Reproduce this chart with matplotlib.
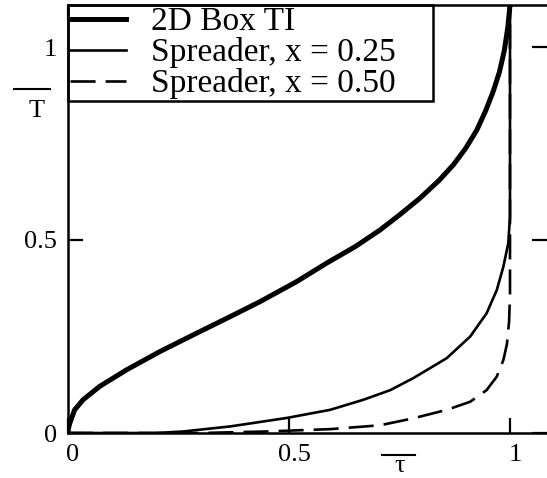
#!/usr/bin/env python
"""
Normalised temperature against normalised time for a 2D box
thermal insulator and two spreader positions.
"""

import matplotlib
matplotlib.use("Agg")
import matplotlib.pyplot as plt
import matplotlib.transforms as mtransforms
from matplotlib.lines import Line2D

# Curves (tau, T)
box_tau = [0, 0.001, 0.004, 0.015, 0.034, 0.072, 0.133, 0.208, 0.283, 0.359,
           0.434, 0.517, 0.585, 0.65, 0.706, 0.75, 0.796, 0.84, 0.872, 0.90,
           0.925, 0.945, 0.962, 0.976, 0.987, 0.995, 1.0]
box_T = [0, 0.012, 0.025, 0.060, 0.086, 0.121, 0.164, 0.211, 0.254, 0.297,
         0.340, 0.392, 0.440, 0.483, 0.526, 0.565, 0.608, 0.655, 0.695, 0.738,
         0.785, 0.835, 0.885, 0.935, 0.99, 1.05, 1.109]

spr25_tau = [0, 0.2, 0.261, 0.367, 0.495, 0.593, 0.668, 0.729, 0.781, 0.857,
             0.910, 0.947, 0.970, 0.985, 0.996, 1.0, 1.0]
spr25_T = [0, 0, 0.004, 0.017, 0.039, 0.060, 0.086, 0.111, 0.142, 0.194,
           0.250, 0.310, 0.370, 0.431, 0.491, 0.56, 1.109]

spr50_tau = [0, 0.3, 0.45, 0.593, 0.706, 0.781, 0.857, 0.910, 0.947, 0.970,
             0.985, 0.993, 0.998, 1.0, 1.0]
spr50_T = [0, 0, 0.004, 0.010, 0.020, 0.038, 0.060, 0.081, 0.111, 0.146,
           0.189, 0.23, 0.29, 0.36, 1.109]

labels = ["2D Box TI", "Spreader, x = 0.25", "Spreader, x = 0.50"]
tick_vals = [0, 0.5, 1]
tick_text = ["0", "0.5", "1"]

plt.rcParams['font.family'] = ['Liberation Serif', 'DejaVu Serif']

fig = plt.figure(figsize=(5.47, 4.78), dpi=100)
ax = fig.add_axes([68 / 547, 45 / 478, 479 / 547, 428 / 478])

ax.plot(box_tau, box_T, color='k', lw=3.6, label=labels[0])
ax.plot(spr25_tau, spr25_T, color='k', lw=1.9, label=labels[1])
ax.plot(spr50_tau, spr50_T, color='k', lw=1.9, dashes=(9.5, 3.8),
        label=labels[2])

ax.set_xlim(0, 479 / 442)
ax.set_ylim(0, 428 / 386)

for side in ['left', 'bottom', 'top']:
    ax.spines[side].set_linewidth(1.8)
ax.spines['right'].set_visible(False)

ax.set_xticks(tick_vals)
ax.set_xticklabels(tick_text)
ax.set_yticks(tick_vals)
ax.set_yticklabels(tick_text)
ax.tick_params(direction='in', top=True, right=True, length=11, width=1.6,
               labelsize=19, pad=8)

# tick labels sit a little right of their ticks in the original
offset = mtransforms.ScaledTranslation(0.05, 0, fig.dpi_scale_trans)
for lab in ax.get_xticklabels():
    lab.set_transform(lab.get_transform() + offset)

leg = ax.legend(loc='upper left', bbox_to_anchor=(0, 0, 365 / 479, 1),
                mode='expand', borderaxespad=0, fontsize=24,
                handlelength=1.7, handletextpad=0.75, labelspacing=0,
                borderpad=0.05, fancybox=False, framealpha=1,
                edgecolor='k')
leg.get_frame().set_linewidth(1.8)
leg.set_zorder(2.4)  # let the top tick show through like the original

# axis labels with overbars
fig.text(37 / 547, 1 - 111 / 478, "T", fontsize=19, ha='center', va='center')
fig.add_artist(Line2D([14 / 547, 50 / 547], [1 - 89 / 478, 1 - 89 / 478],
                      transform=fig.transFigure, color='k', lw=1.5))
fig.text(400 / 547, 1 - 466 / 478, "τ", fontsize=19, ha='center', va='center')
fig.add_artist(Line2D([382 / 547, 415 / 547], [1 - 455 / 478, 1 - 455 / 478],
                      transform=fig.transFigure, color='k', lw=1.5))

fig.savefig("out.png", dpi=100)
